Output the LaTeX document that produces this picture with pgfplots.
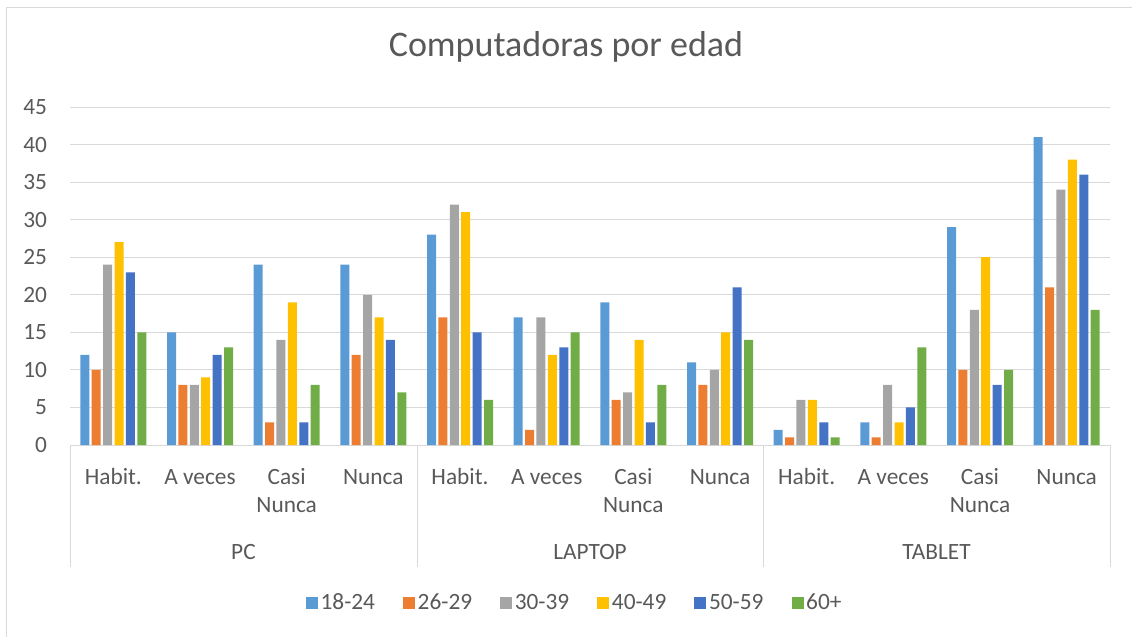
\documentclass[border=0pt]{standalone}
\usepackage{pgfplots}
\pgfplotsset{compat=1.18}
\usepackage{fontspec}
\setmainfont{Carlito}
\definecolor{txt}{HTML}{595959}
\definecolor{grd}{HTML}{D9D9D9}
\definecolor{cA}{HTML}{5B9BD5}
\definecolor{cB}{HTML}{ED7D31}
\definecolor{cC}{HTML}{A5A5A5}
\definecolor{cD}{HTML}{FFC000}
\definecolor{cE}{HTML}{4472C4}
\definecolor{cF}{HTML}{70AD47}
\newcommand{\lbl}{\fontsize{17.5}{21}\selectfont}
\begin{document}
\begin{tikzpicture}
\useasboundingbox (0,0) rectangle (849pt,477.75pt);
% marco del grafico
\draw[grd, line width=0.75pt] (4.5pt,0pt) -- (4.5pt,471.75pt) -- (849pt,471.75pt);
\node[anchor=base, text=txt, font=\fontsize{27}{31}\selectfont] at (424.5pt,435pt) {Computadoras por edad};
\begin{axis}[
    at={(52.5pt,144pt)}, anchor=south west,
    scale only axis, width=780pt, height=253.5pt,
    ybar=1.8pt, bar width=6.75pt,
    xmin=-0.5, xmax=11.5, ymin=0, ymax=45,
    xtick={0,...,11},
    xticklabels={\strut Habit.,\strut A veces,{\strut Casi\\Nunca},\strut Nunca,\strut Habit.,\strut A veces,{\strut Casi\\Nunca},\strut Nunca,\strut Habit.,\strut A veces,{\strut Casi\\Nunca},\strut Nunca},
    ytick={0,5,...,45},
    ymajorgrids, grid style={grd, line width=0.75pt},
    axis line style={draw=none}, major tick length=0pt,
    tick label style={font=\lbl, text=txt},
    xticklabel style={align=center, anchor=north, inner sep=0pt, yshift=-14.5pt},
    yticklabel style={anchor=east, inner sep=0pt, xshift=-17pt},
    /pgf/number format/assume math mode=true,
    legend columns=6,
    legend style={at={(0.4856,-0.4675)}, anchor=center, draw=none, font=\lbl, text=txt,
        /tikz/every even column/.append style={column sep=19pt}},
    legend image code/.code={\fill[#1] (0pt,-4.5pt) rectangle (9pt,4.5pt);},
]
\addplot[fill=cA, draw=none] coordinates {(0,12)(1,15)(2,24)(3,24)(4,28)(5,17)(6,19)(7,11)(8,2)(9,3)(10,29)(11,41)};
\addplot[fill=cB, draw=none] coordinates {(0,10)(1,8)(2,3)(3,12)(4,17)(5,2)(6,6)(7,8)(8,1)(9,1)(10,10)(11,21)};
\addplot[fill=cC, draw=none] coordinates {(0,24)(1,8)(2,14)(3,20)(4,32)(5,17)(6,7)(7,10)(8,6)(9,8)(10,18)(11,34)};
\addplot[fill=cD, draw=none] coordinates {(0,27)(1,9)(2,19)(3,17)(4,31)(5,12)(6,14)(7,15)(8,6)(9,3)(10,25)(11,38)};
\addplot[fill=cE, draw=none] coordinates {(0,23)(1,12)(2,3)(3,14)(4,15)(5,13)(6,3)(7,21)(8,3)(9,5)(10,8)(11,36)};
\addplot[fill=cF, draw=none] coordinates {(0,15)(1,13)(2,8)(3,7)(4,6)(5,15)(6,8)(7,14)(8,1)(9,13)(10,10)(11,18)};
\legend{18-24,26-29,30-39,40-49,50-59,60+}
\end{axis}
% separadores de grupos
\foreach \x in {52.5,312.75,572.25,832.5}
    \draw[grd, line width=0.75pt] (\x pt,144pt) -- (\x pt,52.5pt);
\node[anchor=base, text=txt, font=\lbl] at (182.6pt,58.5pt) {PC};
\node[anchor=base, text=txt, font=\lbl] at (442.5pt,58.5pt) {LAPTOP};
\node[anchor=base, text=txt, font=\lbl] at (702.4pt,58.5pt) {TABLET};
\end{tikzpicture}
\end{document}
